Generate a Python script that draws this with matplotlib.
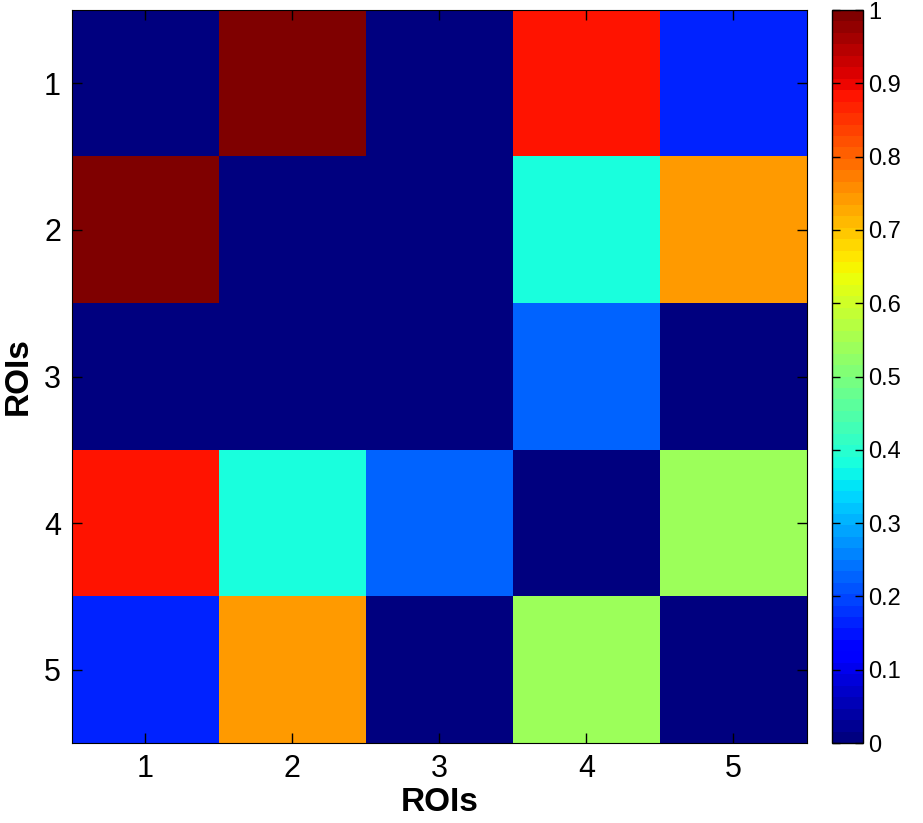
import numpy as np
import matplotlib
matplotlib.use("Agg")
import matplotlib.pyplot as plt

rois = [1, 2, 3, 4, 5]
# symmetric similarity matrix between ROIs
row1 = [0.00, 1.00, 0.00, 0.88, 0.16]
row2 = [1.00, 0.00, 0.00, 0.39, 0.74]
row3 = [0.00, 0.00, 0.00, 0.225, 0.00]
row4 = [0.88, 0.39, 0.225, 0.00, 0.54]
row5 = [0.16, 0.74, 0.00, 0.54, 0.00]
cbar_ticks = [0, 0.1, 0.2, 0.3, 0.4, 0.5, 0.6, 0.7, 0.8, 0.9, 1]

plt.rcParams['font.family'] = ['Liberation Sans', 'DejaVu Sans']

M = np.array([row1, row2, row3, row4, row5])
cmap = plt.get_cmap('jet', 64)

fig = plt.figure(figsize=(9.23, 8.23), dpi=100)
ax = fig.add_axes([0.078, 0.0972, 0.796, 0.8906])
im = ax.imshow(M, cmap=cmap, vmin=0, vmax=1, aspect='auto',
               extent=[0.5, 5.5, 5.5, 0.5], interpolation='nearest')
ax.set_xticks(rois)
ax.set_yticks(rois)
ax.tick_params(direction='in', length=7, width=1, top=True, right=True,
               labelsize=22, pad=8)
ax.set_xlabel('ROIs', fontsize=24, fontweight='bold', labelpad=2)
ax.set_ylabel('ROIs', fontsize=24, fontweight='bold')
ax.yaxis.set_label_coords(-0.052, 0.5)

cax = fig.add_axes([0.901, 0.0972, 0.0336, 0.8906])
cb = fig.colorbar(im, cax=cax, ticks=cbar_ticks)
cb.ax.set_yticklabels([('%g' % t) for t in cbar_ticks])
cb.ax.tick_params(direction='in', length=6, width=1, left=True, right=True,
                  labelsize=17, pad=4)
cb.outline.set_linewidth(1)

fig.savefig('out.png', dpi=100)
